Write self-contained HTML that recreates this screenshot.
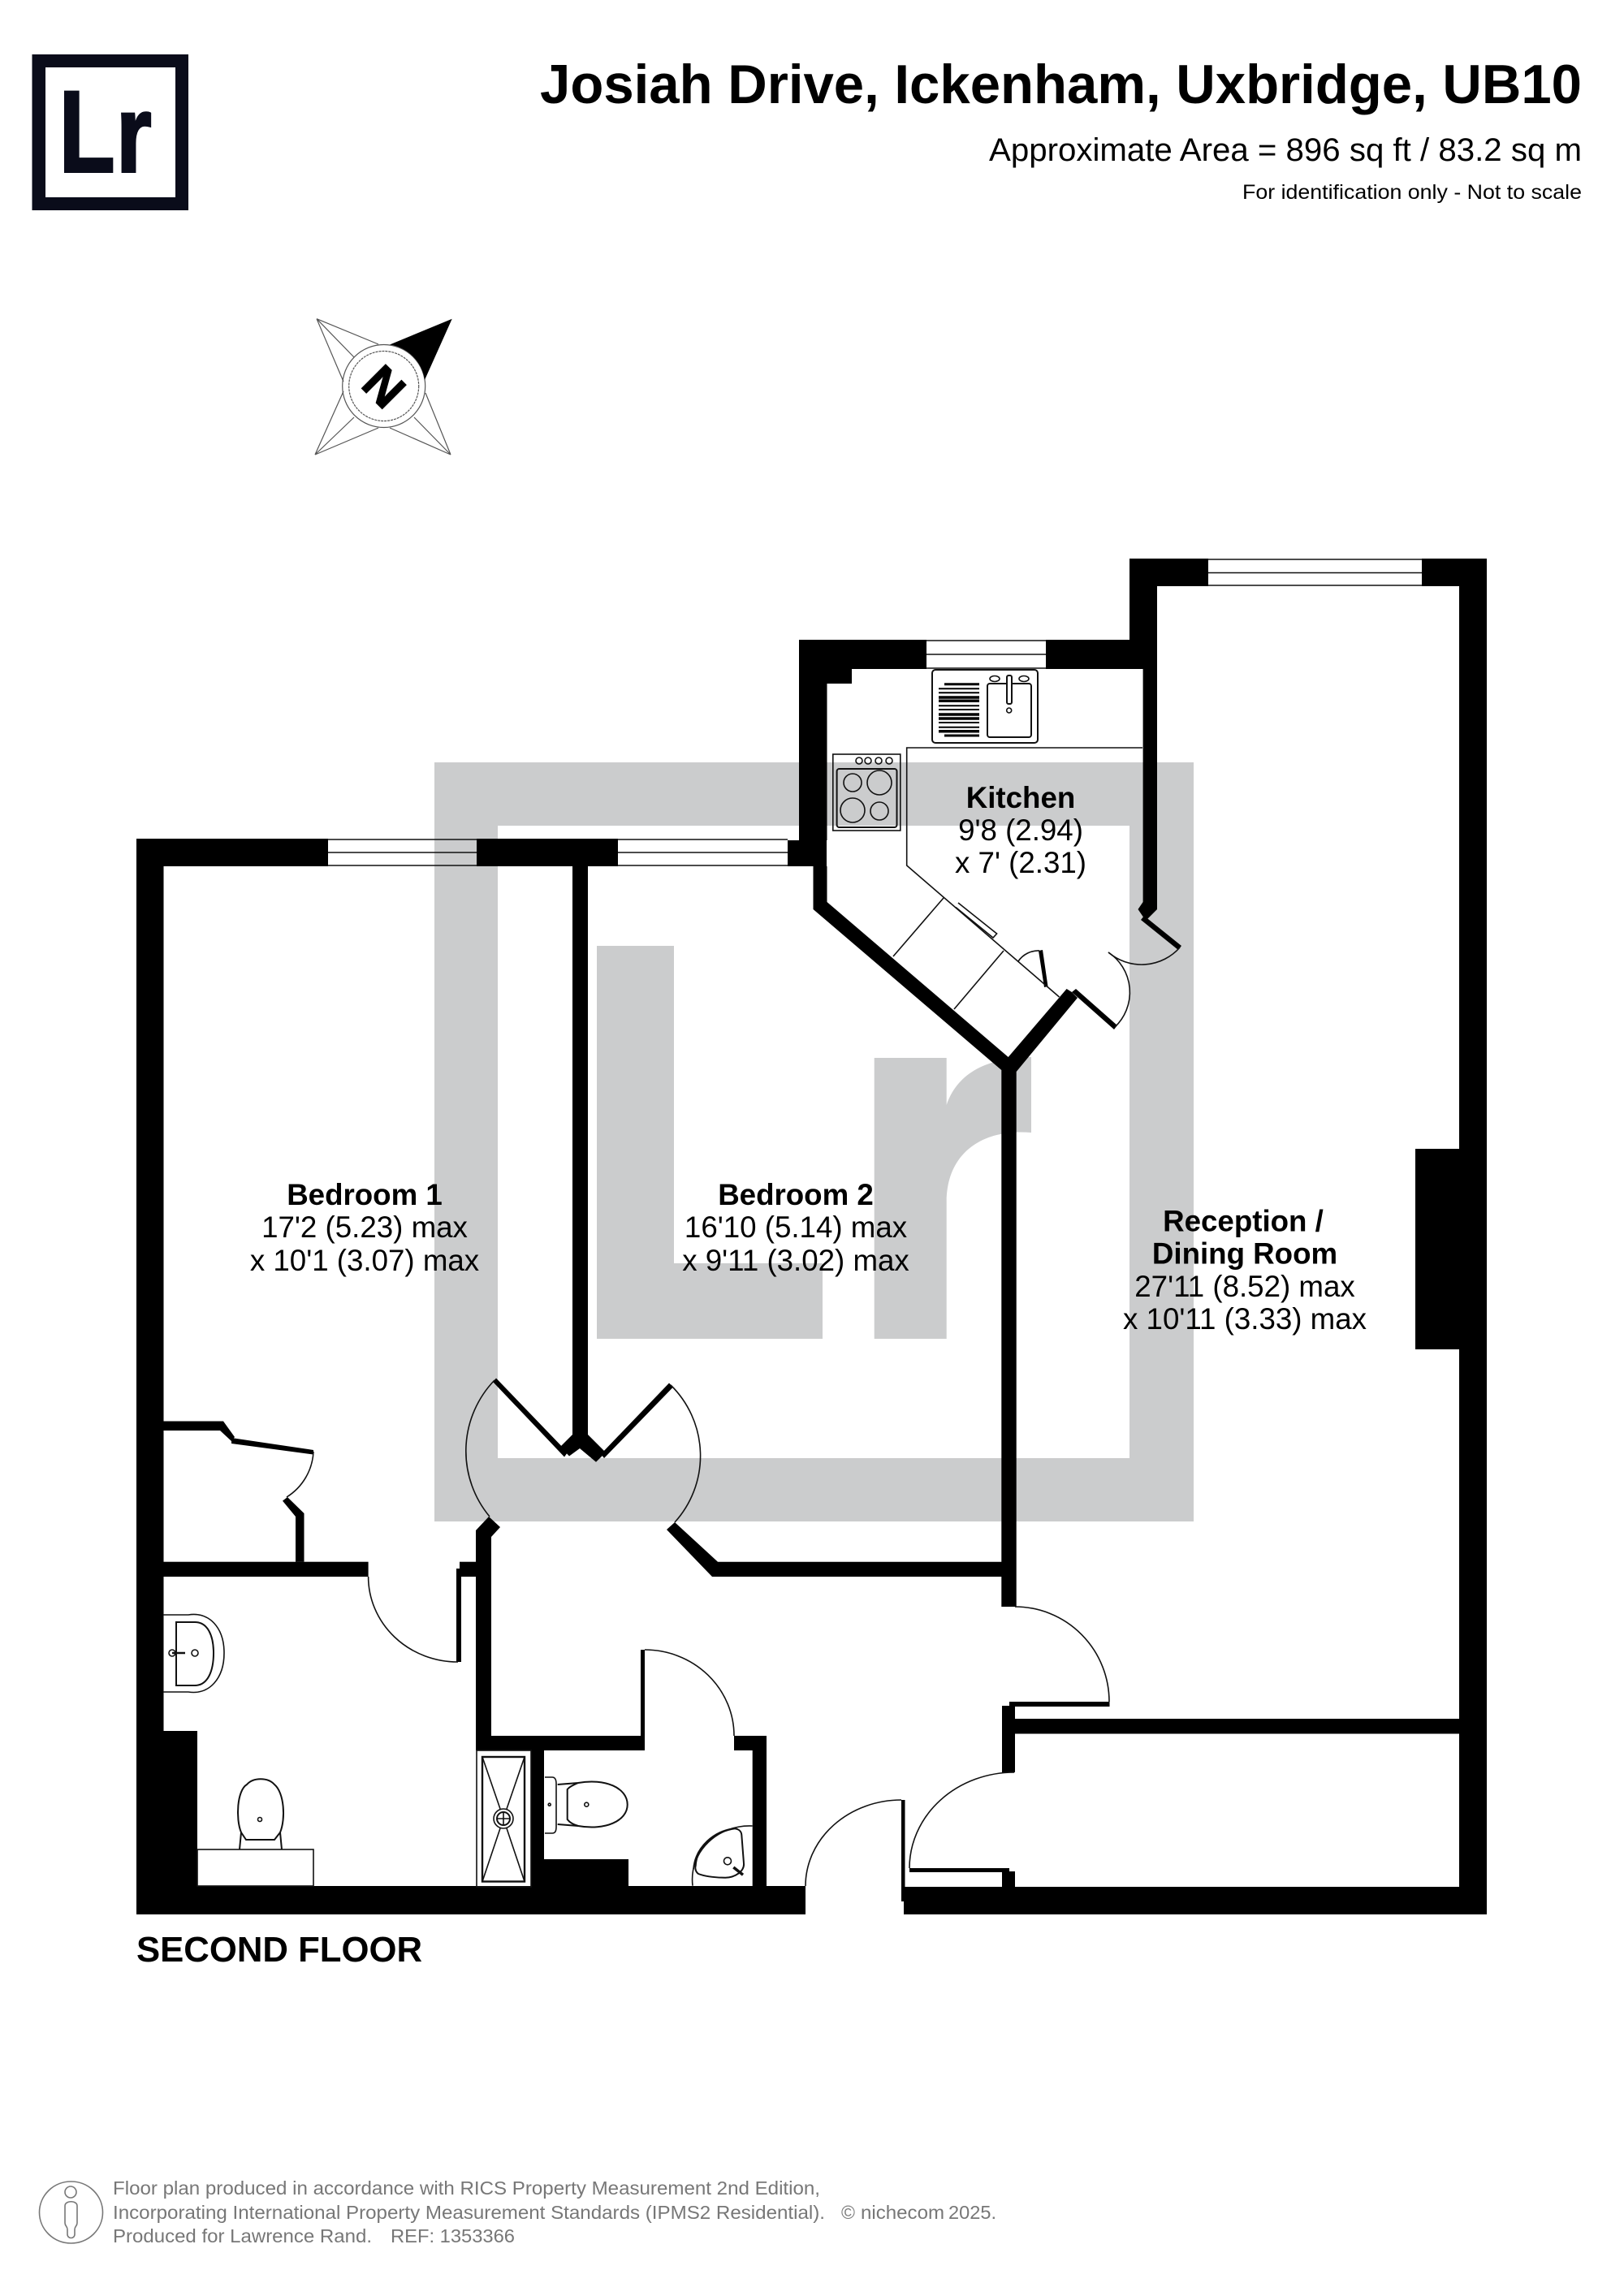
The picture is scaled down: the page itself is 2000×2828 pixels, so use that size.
<!DOCTYPE html>
<html><head><meta charset="utf-8"><title>Josiah Drive Floor Plan</title>
<style>html,body{margin:0;padding:0;background:#fff}svg{display:block}text{font-family:"Liberation Sans",sans-serif}</style></head>
<body>
<svg xmlns="http://www.w3.org/2000/svg" width="2000" height="2828" viewBox="0 0 2000 2828">
<rect width="2000" height="2828" fill="#fff"/>
<!-- logo -->
<rect x="39.500" y="67" width="192.500" height="192" fill="#0a0c1a"/>
<rect x="56" y="83" width="160" height="160" fill="#fff"/>
<text transform="translate(72.600 211.500) scale(.79 1)" font-size="143" font-weight="700" fill="#0a0c1a" stroke="#0a0c1a" stroke-width="3">L</text>
<text transform="translate(143 211.500) scale(.83 1)" font-size="135" font-weight="700" fill="#0a0c1a" stroke="#0a0c1a" stroke-width="3">r</text>
<!-- header -->
<text x="665" y="127" font-size="68" font-weight="700" textLength="1283" lengthAdjust="spacingAndGlyphs">Josiah Drive, Ickenham, Uxbridge, UB10</text>
<text x="1218" y="198" font-size="40" textLength="730" lengthAdjust="spacingAndGlyphs">Approximate Area = 896 sq ft / 83.2 sq m</text>
<text x="1530" y="245" font-size="25" textLength="418" lengthAdjust="spacingAndGlyphs">For identification only - Not to scale</text>
<!-- compass -->
<g fill="none" stroke="#555" stroke-width="1.200">
<circle cx="472.700" cy="475.500" r="51"/><circle cx="472.700" cy="475.500" r="43" stroke-dasharray="3 1"/>
<path d="M390 392.700L466 424M390 392.700L423 470M390 392.700L436 440M388 560L423 482M388 560L466 527M388 560L436 514M555 560L480 527M555 560L524 484M555 560L510 514"/>
</g>
<path d="M480 424.500L556.700 392.700L523 468A51 51 0 0 0 480 424.500Z" fill="#000"/>
<text transform="translate(473 476) rotate(45)" x="0" y="21" font-size="60" font-weight="700" text-anchor="middle" stroke="#000" stroke-width="1.500">N</text>
<!-- watermark -->
<path fill-rule="evenodd" fill="#cbcccd" d="M535 939H1470V1874H535ZM613 1017V1796H1391V1017Z"/>
<path fill="#cbcccd" d="M735 1165H830V1556H1013V1649H735ZM1076.700 1303H1165.700V1361C1178 1325 1210 1303 1270 1302V1395C1210 1390 1166 1420 1165.700 1480V1649H1076.700Z"/>
<!-- walls -->
<g fill="#000">
<rect x="168" y="1033" width="33.500" height="1325"/>
<rect x="168" y="1033" width="236" height="34"/>
<rect x="587" y="1033" width="174" height="34"/>
<rect x="970" y="1035" width="48" height="32"/>
<rect x="705" y="1060" width="19" height="710"/>
<rect x="984" y="788" width="34.500" height="247"/>
<rect x="984" y="788" width="157" height="36"/>
<rect x="1018" y="824" width="31" height="18"/>
<rect x="1288" y="788" width="137" height="36"/>
<rect x="1391" y="688" width="97" height="34"/>
<rect x="1751" y="688" width="80" height="34"/>
<rect x="1391" y="688" width="34" height="100"/>
<path d="M1407.600 780H1425V1120L1411 1134L1401.500 1120L1407.600 1111Z"/>
<rect x="1797" y="688" width="34" height="1670"/>
<rect x="1743" y="1415" width="54" height="247"/>
<path d="M1001.500 1067H1018.500V1111L1241.700 1302L1313.600 1218L1320 1222L1327 1229L1251.700 1320V1979H1233.300V1318L1001.500 1120Z"/>
<path d="M1409 1128L1455 1165L1451 1170L1405 1133Z"/>
<path d="M1325 1218L1376 1263L1372 1268L1320 1222Z"/>
<path d="M1279 1171L1284 1170L1290.500 1215L1286 1216Z"/>
<!-- reception door leaf etc -->
<rect x="1243" y="2096" width="123.500" height="6"/>
<rect x="1234" y="2101" width="16" height="82"/>
<rect x="1250" y="2117" width="547" height="18.500"/>
<rect x="1120" y="2301" width="123" height="5"/>
<rect x="1234" y="2305" width="16" height="53"/>
<rect x="1113" y="2324" width="718" height="34"/>
<rect x="1110" y="2217" width="4.500" height="125"/>
<rect x="168" y="2323" width="824" height="35"/>
<!-- bedroom 1 closet -->
<path d="M201 1750.500H275L289 1770L285 1775L271 1762H201Z"/>
<path d="M285 1771L386 1786V1791.500L285 1778Z"/>
<path d="M354 1844L374.500 1864V1923.700H364V1868L348 1848.600Z"/>
<rect x="201" y="1923.700" width="252.600" height="18.300"/>
<rect x="566" y="1923.700" width="20" height="18.300"/>
<rect x="562" y="1932" width="6" height="115"/>
<!-- hall wall -->
<path d="M586 1885L602 1868L616 1881L605 1893V2156H586Z"/>
<rect x="586" y="2138" width="204" height="18"/>
<rect x="789" y="2032" width="5" height="124"/>
<rect x="904" y="2138" width="40" height="18"/>
<rect x="926.700" y="2138" width="17.300" height="186"/>
<rect x="653.600" y="2156" width="16.400" height="168"/>
<rect x="670" y="2290" width="104" height="34"/>
<rect x="201" y="2132" width="42" height="192"/>
<!-- double doors -->
<path d="M611 1697.500L699 1789L695 1794.500L607 1702Z"/>
<path d="M829 1708.500L744 1796L740 1791L824 1703.500Z"/>
<path d="M705 1767L690 1782L701 1793.500L714 1784L734 1800.700L746 1789L724 1767Z"/>
<path d="M831 1875L821 1884L877 1942H1234V1923.700H884Z"/>
</g>
<!-- thin lines: windows -->
<g fill="none" stroke="#111" stroke-width="1.600">
<path d="M404 1034H587M404 1050H587M404 1066H587M761 1034H970M761 1050H970M761 1066H970"/>
<path d="M1488 689H1751M1488 705.500H1751M1488 721H1751M1141 789H1288M1141 806H1288M1141 823H1288"/>
<!-- door arcs -->
<path d="M609 1700A126 126 0 0 0 603 1868"/>
<path d="M826 1706A122 122 0 0 1 831 1875"/>
<path d="M386 1788A70 70 0 0 1 353 1844"/>
<path d="M453.600 1942A110 105 0 0 0 564 2047"/>
<path d="M794 2032A110 106 0 0 1 904 2138"/>
<path d="M1250 1979A116 117 0 0 1 1366 2096"/>
<path d="M1110 2217A118 106 0 0 0 992 2323"/>
<path d="M1249 2183A129 118 0 0 0 1120 2301"/>
<path d="M1453 1167A63 63 0 0 1 1365 1173"/>
<path d="M1365 1173A59 59 0 0 1 1373 1265"/>
<path d="M1280 1171A30 30 0 0 0 1254 1184"/>
<!-- kitchen counter -->
<path d="M1407 921H1116.700V1066L1304.500 1228"/>
<path d="M1162 1106L1100 1178M1236 1171L1175 1243"/>
<path d="M1180 1112L1227.600 1150L1223 1155L1177 1117.500"/>
<!-- sink -->
<rect x="1148" y="825" width="130" height="90" rx="4" stroke-width="2"/>
<rect x="1216" y="842" width="54" height="66" rx="3" stroke-width="2"/>
<rect x="1240" y="832" width="6" height="35" rx="2" fill="#fff" stroke-width="2"/>
<circle cx="1242.700" cy="875" r="3"/>
<ellipse cx="1225" cy="836" rx="6" ry="3.500"/><ellipse cx="1261" cy="836" rx="6" ry="3.500"/>
<g stroke="#000">
<path stroke-width="3" d="M1163 842.700H1206M1163 906H1206"/>
<path stroke-width="2" d="M1156 848.300H1206M1156 853.300H1206M1156 869.300H1206M1156 874H1206M1156 890H1206M1156 895.700H1206"/>
<path stroke-width="3.500" d="M1156 859H1206M1156 863.300H1206M1156 880H1206M1156 885H1206M1156 900.700H1206"/>
</g>
<!-- hob -->
<rect x="1025.800" y="929" width="83" height="94"/>
<rect x="1030.600" y="947" width="73.900" height="72" rx="3" stroke-width="2"/>
<ellipse cx="1050" cy="964" rx="11" ry="11"/><ellipse cx="1083" cy="964" rx="15" ry="15"/>
<ellipse cx="1050" cy="998" rx="15" ry="15"/><ellipse cx="1083" cy="999" rx="11" ry="11"/>
<circle cx="1058" cy="937" r="4"/><circle cx="1069" cy="937" r="4"/><circle cx="1082" cy="937" r="4"/><circle cx="1095" cy="937" r="4"/>
<!-- bath basin -->
<path d="M201 1989H232C258 1985 276 2005 276 2036C276 2067 258 2088 232 2084H201"/>
<path d="M217 1998H240C256 1998 263 2015 263 2036C263 2058 256 2076 240 2076H217Z" stroke-width="2"/>
<circle cx="212" cy="2036" r="4"/><circle cx="240" cy="2036" r="4"/>
<path d="M212 2036H228" stroke-width="2.500"/>
<!-- bath WC -->
<rect x="243" y="2278" width="143" height="45"/>
<path d="M295 2278L297 2257C290 2240 292 2205 304 2198C312 2189 330 2189 338 2198C350 2208 352 2240 345 2257L347 2278" stroke-width="2"/>
<path d="M297 2257L303 2266H338L345 2257" stroke-width="2"/>
<circle cx="320" cy="2241" r="2.500"/>
<!-- shower -->
<rect x="587" y="2156" width="67" height="168"/>
<rect x="594" y="2164" width="52" height="153.500" stroke-width="2.400"/>
<circle cx="620" cy="2240" r="12"/><circle cx="620" cy="2240" r="8" stroke-width="2"/>
<path d="M612 2240H628M620 2232V2248M594 2164L616 2228M646 2164L624 2228M594 2317.500L616 2252M646 2317.500L624 2252"/>
<!-- WC 2 -->
<path d="M671 2189H680C684 2189 685 2193 685 2197V2250C685 2255 684 2258 680 2258H671"/>
<path d="M686.700 2198L712 2196C745 2190 772.700 2202 772.700 2222.700C772.700 2243 745 2255 712 2249L686.700 2247" stroke-width="2"/>
<path d="M712 2196C705 2199 701 2201 698.700 2204V2241C701 2244 705 2247 712 2249" stroke-width="2"/>
<circle cx="722.300" cy="2222.700" r="2.500"/><circle cx="676.700" cy="2222.700" r="1.500"/>
<!-- corner basin -->
<path d="M926.700 2249C885 2247 848 2280 853 2322.700"/>
<path d="M905 2252C880 2254 856 2275 854 2302"/>
<path d="M905 2252.300C910 2253 913 2256 913.300 2260L916 2295C917 2305 905 2312.700 893.300 2312.700C880 2312.700 868 2311 860 2308C856 2305 856 2300 856.700 2298C858 2275 880 2256 905 2252.300Z" stroke-width="2"/>
<circle cx="896" cy="2292.300" r="4.500"/>
<path d="M903.300 2300L915 2309.300" stroke-width="3.500"/>
</g>
<!-- labels -->
<g text-anchor="middle" font-size="36.700">
<text x="449" y="1484" font-weight="700">Bedroom 1</text>
<text x="449" y="1524">17'2 (5.23) max</text>
<text x="449" y="1565">x 10'1 (3.07) max</text>
<text x="980" y="1484" font-weight="700">Bedroom 2</text>
<text x="980" y="1524">16'10 (5.14) max</text>
<text x="980" y="1565">x 9'11 (3.02) max</text>
<text x="1257" y="995" font-weight="700">Kitchen</text>
<text x="1257" y="1035">9'8 (2.94)</text>
<text x="1257" y="1075">x 7' (2.31)</text>
<text x="1531" y="1516.500" font-weight="700">Reception /</text>
<text x="1533" y="1556.500" font-weight="700">Dining Room</text>
<text x="1533" y="1597">27'11 (8.52) max</text>
<text x="1533" y="1637">x 10'11 (3.33) max</text>
</g>
<text x="168" y="2416" font-size="44" font-weight="700" textLength="352" lengthAdjust="spacingAndGlyphs">SECOND FLOOR</text>
<!-- footer -->
<g fill="none" stroke="#777" stroke-width="1.600">
<ellipse cx="87.500" cy="2725" rx="39" ry="38"/>
<circle cx="87" cy="2700" r="7"/>
<path d="M80 2717C80 2710 95 2710 95 2717V2738C95 2742 92 2742 92 2746V2752C92 2758 83 2758 83 2752V2746C83 2742 80 2742 80 2738Z"/>
</g>
<g fill="#777" font-size="23">
<text x="139" y="2703" textLength="871" lengthAdjust="spacingAndGlyphs">Floor plan produced in accordance with RICS Property Measurement 2nd Edition,</text>
<text x="139" y="2733" textLength="877" lengthAdjust="spacingAndGlyphs">Incorporating International Property Measurement Standards (IPMS2 Residential).</text>
<text x="1036" y="2733">©</text>
<text x="1060" y="2733" textLength="103" lengthAdjust="spacingAndGlyphs">nichecom</text>
<text x="1168" y="2733" textLength="59" lengthAdjust="spacingAndGlyphs">2025.</text>
<text x="139" y="2762" textLength="319" lengthAdjust="spacingAndGlyphs">Produced for Lawrence Rand.</text>
<text x="481" y="2762" textLength="153" lengthAdjust="spacingAndGlyphs">REF: 1353366</text>
</g>
</svg>
</body></html>
